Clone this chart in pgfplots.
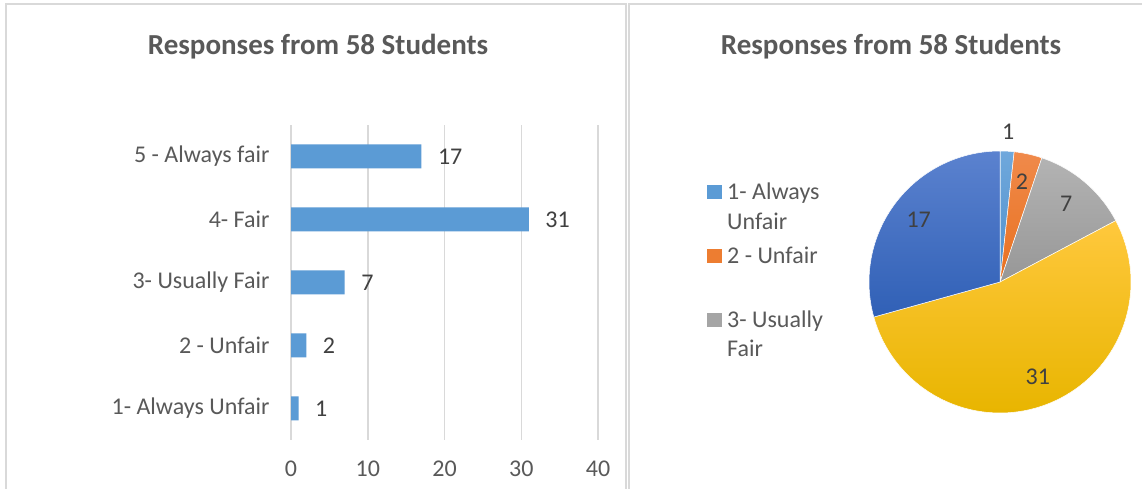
\documentclass[border=0pt]{standalone}
\usepackage{pgfplots}
\pgfplotsset{compat=1.18}
\usepgfplotslibrary{polar}
\usepackage{fontspec}
\setmainfont{Carlito}
\definecolor{txt}{HTML}{595959}
\definecolor{lbl}{HTML}{404040}
\definecolor{grd}{HTML}{D9D9D9}
\definecolor{cA}{HTML}{5B9BD5}
\definecolor{cB}{HTML}{ED7D31}
\definecolor{cC}{HTML}{A5A5A5}
\definecolor{cAt}{HTML}{6FA8DC}\definecolor{cAb}{HTML}{5090CC}
\definecolor{cBt}{HTML}{F08A4B}\definecolor{cBb}{HTML}{E8701E}
\definecolor{cCt}{HTML}{B3B3B3}\definecolor{cCb}{HTML}{979797}
\definecolor{cDt}{HTML}{FFC83D}\definecolor{cDb}{HTML}{E8B500}
\definecolor{cEt}{HTML}{5B82CF}\definecolor{cEb}{HTML}{3060B6}
\tikzset{pielabel/.style={font=\fontsize{24}{24}\selectfont, text=lbl}}
% #1 = count before, #2 = count, #3 = top colour, #4 = bottom colour, #5 = label radius
\newcommand\pieslice[5]{%
  \pgfmathsetmacro\sa{90-(360/58)*(#1+#2)}%
  \pgfmathsetmacro\sb{90-(360/58)*(#1)}%
  \pgfmathsetmacro\sm{90-(360/58)*(#1+#2/2)}%
  \edef\tmp{\noexpand\addplot[top color=#3,bottom color=#4,draw=white,line width=0.5pt,domain=\sa:\sb,samples=80]{1} -- (axis cs:0,0) -- cycle;
    \noexpand\node[pielabel] at (axis cs:\sm,#5) {#2};}%
  \tmp}
\begin{document}
\begin{tikzpicture}
\useasboundingbox (0,0) rectangle (1142pt,489pt);
\fill[white] (0,0) rectangle (1142pt,489pt);
% panel borders
\draw[grd, line width=2pt] (6pt,-2pt) -- (6pt,485pt) -- (626pt,485pt) -- (626pt,-2pt);
\draw[grd, line width=2pt] (629pt,-2pt) -- (629pt,485pt) -- (1145pt,485pt);
% titles
\node[font=\bfseries\fontsize{29}{29}\selectfont, text=txt] at (318pt,442pt) {Responses from 58 Students};
\node[font=\bfseries\fontsize{29}{29}\selectfont, text=txt] at (891pt,442pt) {Responses from 58 Students};

\begin{axis}[
  at={(291pt,49pt)}, anchor=south west, scale only axis,
  width=307pt, height=315pt,
  xbar, bar width=24pt,
  xmin=0, xmax=40, ymin=0.5, ymax=5.5,
  xtick={0,10,20,30,40}, ytick={1,2,3,4,5},
  yticklabels={1- Always Unfair, 2 - Unfair, 3- Usually Fair, 4- Fair, 5 - Always fair},
  xmajorgrids, grid style={grd, line width=1.5pt},
  axis line style={draw=none}, major tick length=0pt,
  tick label style={font=\fontsize{24}{24}\selectfont, text=txt},
  /pgf/number format/assume math mode=true,
  yticklabel style={xshift=-18pt},
  xticklabel style={yshift=-17pt},
  nodes near coords,
  point meta=x,
  nodes near coords style={font=\fontsize{24}{24}\selectfont, text=lbl, xshift=13pt},
]
\addplot[fill=cA, draw=none] coordinates {(1,1) (2,2) (7,3) (31,4) (17,5)};
\end{axis}

\begin{polaraxis}[
  at={(1000pt,207pt)}, anchor=origin, scale only axis,
  width=262pt, height=262pt,
  ymin=0, ymax=1, hide axis, clip=false,
]
\pieslice{0}{1}{cAt}{cAb}{1.15}
\pieslice{1}{2}{cBt}{cBb}{0.78}
\pieslice{3}{7}{cCt}{cCb}{0.78}
\pieslice{10}{31}{cDt}{cDb}{0.78}
\pieslice{41}{17}{cEt}{cEb}{0.78}
\end{polaraxis}

% legend
\fill[cA] (707pt,290pt) rectangle (722pt,304pt);
\fill[cB] (707pt,226pt) rectangle (722pt,240pt);
\fill[cC] (707pt,162pt) rectangle (722pt,176pt);
\begin{scope}[every node/.style={font=\fontsize{24}{24}\selectfont, text=txt, anchor=base west, inner sep=0pt}]
\node at (727pt,289pt) {1- Always};
\node at (727pt,259pt) {Unfair};
\node at (727pt,225pt) {2 - Unfair};
\node at (727pt,161pt) {3- Usually};
\node at (727pt,132pt) {Fair};
\end{scope}
\end{tikzpicture}
\end{document}
